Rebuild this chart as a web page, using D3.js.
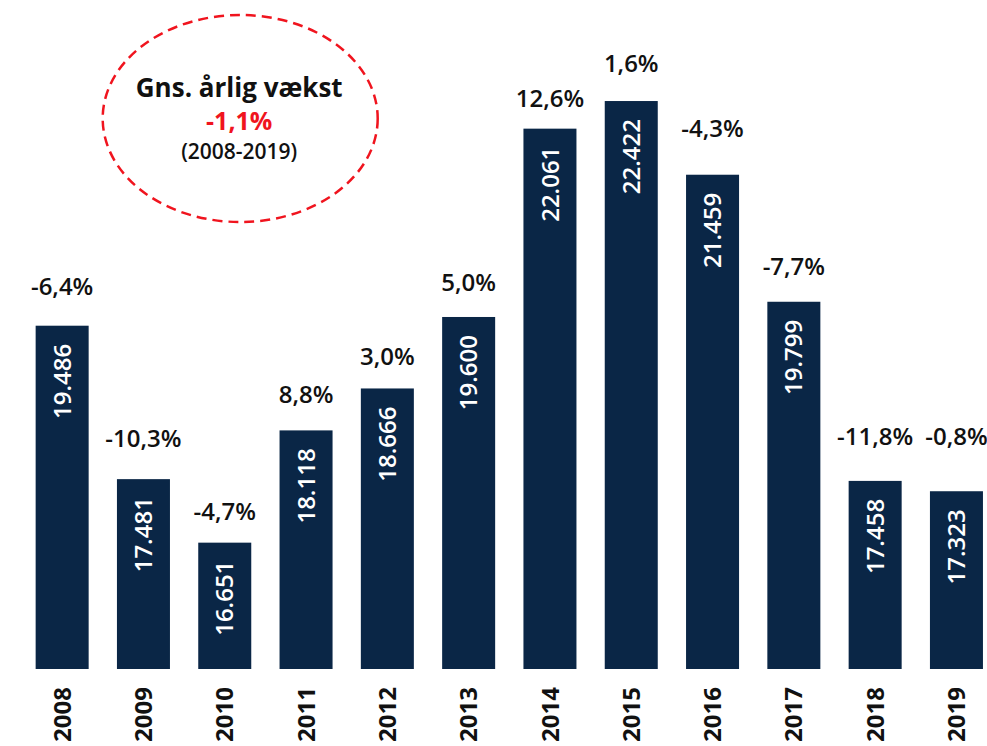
<!DOCTYPE html>
<html>
<head>
<meta charset="utf-8">
<script src="https://cdn.jsdelivr.net/npm/d3@7"></script>
<style>
  html, body { margin: 0; padding: 0; background: #fff; }
  svg { display: block; font-family: "Open Sans", "DejaVu Sans", sans-serif; }
</style>
</head>
<body>
<svg id="chart" width="987" height="746"></svg>
<script>
// ---- data ----
const years = ["2008","2009","2010","2011","2012","2013","2014","2015","2016","2017","2018","2019"];
const values = [19486, 17481, 16651, 18118, 18666, 19600, 22061, 22422, 21459, 19799, 17458, 17323];
const growthLabels = ["-6,4%","-10,3%","-4,7%","8,8%","3,0%","5,0%","12,6%","1,6%","-4,3%","-7,7%","-11,8%","-0,8%"];
const calloutLines = ["Gns. årlig vækst", "-1,1%", "(2008-2019)"];

// ---- layout (not data) ----
const pctGap = [31, 32, 23, 27, 23, 26, 22, 29, 38, 27, 36, 46];
const barColor = "#0a2646";
const red = "#f0141e";

const svg = d3.select("#chart");

const x = d3.scaleBand()
  .domain(years)
  .range([21.5, 997.1])
  .paddingInner(0.348)
  .paddingOuter(0.174);

const y = d3.scaleLinear()
  .domain([15000, 23000])
  .range([669, 56.8]);

const fmt = v => d3.format(",")(v).replace(/,/g, ".");

const g = svg.append("g");

// bars
g.selectAll("rect.bar")
  .data(values)
  .join("rect")
  .attr("class", "bar")
  .attr("x", (d, i) => x(years[i]))
  .attr("y", d => y(d))
  .attr("width", x.bandwidth())
  .attr("height", d => y.range()[0] - y(d))
  .attr("fill", barColor);

// values inside bars (rotated)
g.selectAll("text.val")
  .data(values)
  .join("text")
  .attr("class", "val")
  .attr("transform", (d, i) => `translate(${x(years[i]) + x.bandwidth() / 2},${y(d) + 18}) rotate(-90)`)
  .attr("text-anchor", "end")
  .attr("dy", "0.36em")
  .attr("fill", "#fff")
  .attr("font-size", 24)
  .attr("font-weight", 600)
  .text(d => fmt(d));

// growth labels
g.selectAll("text.pct")
  .data(values)
  .join("text")
  .attr("class", "pct")
  .attr("x", (d, i) => x(years[i]) + x.bandwidth() / 2)
  .attr("y", (d, i) => y(d) - pctGap[i])
  .attr("text-anchor", "middle")
  .attr("fill", "#111")
  .attr("font-size", 24)
  .attr("font-weight", 600)
  .text((d, i) => growthLabels[i]);

// year axis labels (rotated)
const xAxis = d3.axisBottom(x).tickSize(0).tickPadding(0);
const ax = svg.append("g").attr("transform", `translate(0,${y.range()[0]})`).call(xAxis);
ax.select(".domain").remove();
ax.selectAll(".tick text")
  .attr("transform", "translate(0,18) rotate(-90)")
  .attr("text-anchor", "end")
  .attr("x", 0)
  .attr("y", 0)
  .attr("dy", "0.36em")
  .attr("fill", "#111")
  .attr("font-size", 24)
  .attr("font-weight", 700)
  .attr("font-family", "\"Open Sans\", \"DejaVu Sans\", sans-serif");

// callout ellipse
const cx = 240.2, cy = 118.5;
svg.append("ellipse")
  .attr("cx", cx).attr("cy", cy)
  .attr("rx", 137.5).attr("ry", 103.5)
  .attr("fill", "none")
  .attr("stroke", red)
  .attr("stroke-width", 2.5)
  .attr("stroke-dasharray", "10,6");

svg.append("text")
  .attr("x", cx - 1).attr("y", 97)
  .attr("text-anchor", "middle")
  .attr("fill", "#111")
  .attr("font-size", 26)
  .attr("font-weight", 700)
  .text(calloutLines[0]);

svg.append("text")
  .attr("x", cx - 1).attr("y", 130)
  .attr("text-anchor", "middle")
  .attr("fill", red)
  .attr("font-size", 25)
  .attr("font-weight", 700)
  .text(calloutLines[1]);

svg.append("text")
  .attr("x", cx - 1).attr("y", 159)
  .attr("text-anchor", "middle")
  .attr("fill", "#111")
  .attr("font-size", 21)
  .attr("font-weight", 600)
  .text(calloutLines[2]);
</script>
</body>
</html>
